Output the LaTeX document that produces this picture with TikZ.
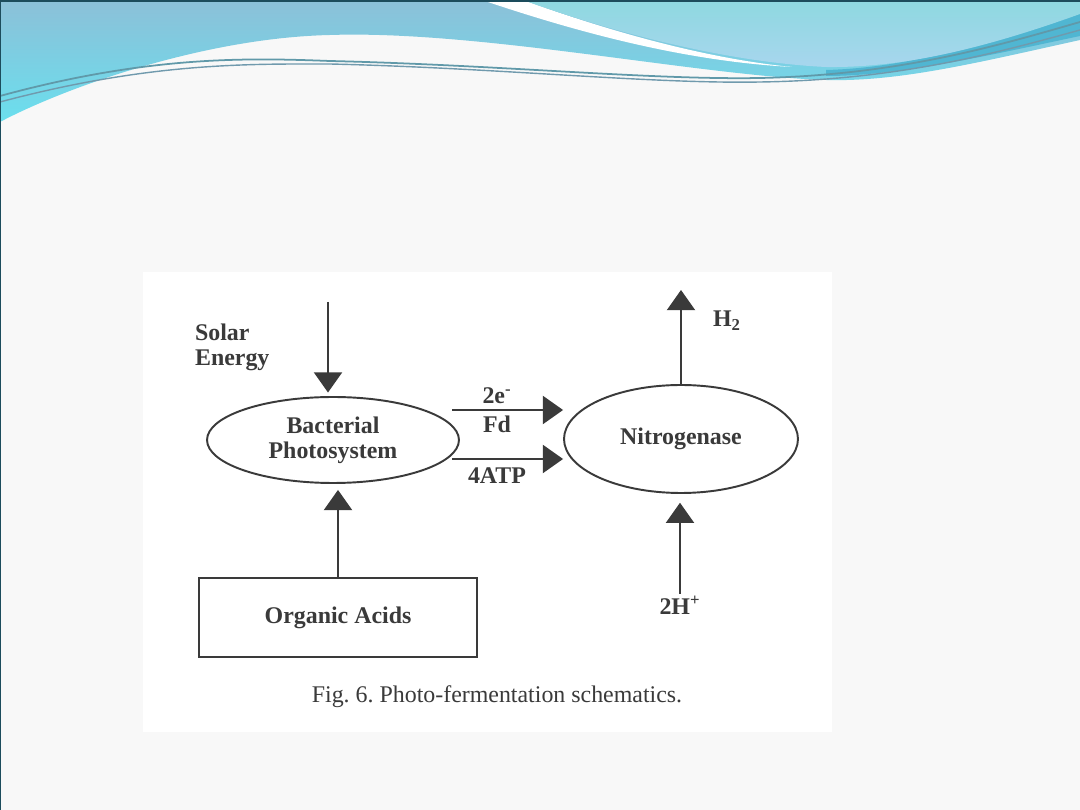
\documentclass[tikz,border=0pt]{standalone}
\usepackage{fontspec}
\setmainfont{Liberation Serif}
\usetikzlibrary{arrows.meta,shapes.geometric}
\frenchspacing

\definecolor{ink}{HTML}{3A3A3A}
\definecolor{slidebg}{HTML}{F8F8F8}
\definecolor{waveA}{HTML}{8CC0D8}
\definecolor{waveB}{HTML}{6ADFEE}
\definecolor{waveC}{HTML}{8ED8E0}
\definecolor{waveD}{HTML}{A8D6EE}
\definecolor{waveE}{HTML}{50B6D2}
\definecolor{rimline}{HTML}{1C4C5C}

\tikzset{
  lbl/.style={font=\fontsize{13.6}{14.2}\selectfont\bfseries, text=ink, inner sep=1pt},
  ell/.style={ellipse, draw=ink, line width=1.1pt, lbl, align=center},
  arr/.style={draw=ink, line width=1pt, -{Triangle[length=11.5pt,width=16pt]}},
}

\begin{document}
\begin{tikzpicture}[x=0.02cm, y=-0.02cm]
  \useasboundingbox (0,0) rectangle (1080,810);
  % slide background and top waves
  \fill[slidebg] (0,0) rectangle (1080,810);
  \shade[top color=waveA, bottom color=waveB]
    (0,0) -- (1080,0) -- (1080,40) .. controls (980,62) and (900,82) .. (826,80)
    .. controls (700,76) and (480,30) .. (330,35) .. controls (200,38) and (60,90) .. (0,122) -- cycle;
  \fill[waveE] (1080,12) .. controls (980,48) and (900,68) .. (826,70)
    -- (826,76) .. controls (900,76) and (990,55) .. (1080,36) -- cycle;
  \fill[white] (482,0) .. controls (600,40) and (700,62) .. (792,67)
    .. controls (700,58) and (600,28) .. (523,0) -- cycle;
  \shade[top color=waveC, bottom color=waveD]
    (523,0) -- (1080,0) -- (1080,14) .. controls (980,50) and (900,68) .. (826,67)
    .. controls (720,62) and (600,28) .. (523,0) -- cycle;
  \draw[line width=1pt, color=waveE!70!black!80]
    (0,96) .. controls (150,55) and (250,58) .. (330,61) .. controls (500,65) and (650,80) .. (760,78)
    .. controls (900,75) and (1000,45) .. (1080,22);
  \draw[line width=0.8pt, color=waveA!80!black]
    (0,102) .. controls (150,62) and (250,64) .. (330,64) .. controls (500,68) and (650,84) .. (760,82)
    .. controls (900,80) and (1000,52) .. (1080,30);
  \draw[rimline, line width=2pt] (0,0) -- (1080,0);
  \draw[rimline, line width=1.2pt] (0,0) -- (0,810);

  % figure panel
  \fill[white] (143,272) rectangle (832,732);

  \node[ell, minimum width=5.04cm, minimum height=1.72cm] (bact) at (333,440) {Bacterial\\Photosystem};
  \node[ell, minimum width=4.68cm, minimum height=2.16cm] (nitro) at (681,439) {Nitrogenase};
  \node[draw=ink, line width=1.1pt, lbl, minimum width=5.56cm, minimum height=1.58cm] (acids) at (338,617.5) {Organic Acids};

  \node[lbl, anchor=west, align=left] (solar) at (193,347) {Solar\\Energy};
  \node[lbl] (elec) at (497,396) {2e\textsuperscript{-}};
  \node[lbl] (fd) at (497,424) {Fd};
  \node[lbl] (atp) at (497,476) {4ATP};
  \node[lbl] (htwo) at (727,321) {H\textsubscript{2}};
  \node[lbl] (hplus) at (680,605) {2H\textsuperscript{+}};

  \coordinate (sun) at (328,302);
  \coordinate (etail) at (452,410);
  \coordinate (atail) at (452,459);
  \coordinate (gas) at (681,290);

  \draw[arr, shorten >=2pt] (sun) -- (sun |- bact.north);
  \draw[arr, shorten >=3.4pt] (acids.north) -- (acids.north |- bact.south);
  \draw[arr] (etail) -- (etail -| nitro.west);
  \draw[arr] (atail) -- (atail -| nitro.west);
  \draw[arr] (nitro.north) -- (gas);
  \draw[arr, shorten >=5pt] (hplus.north) -- (hplus.north |- nitro.south);

  \node[font=\fontsize{13.6}{16}\selectfont, text=ink] (caption) at (497,697) {Fig. 6. Photo-fermentation schematics.};
\end{tikzpicture}
\end{document}
